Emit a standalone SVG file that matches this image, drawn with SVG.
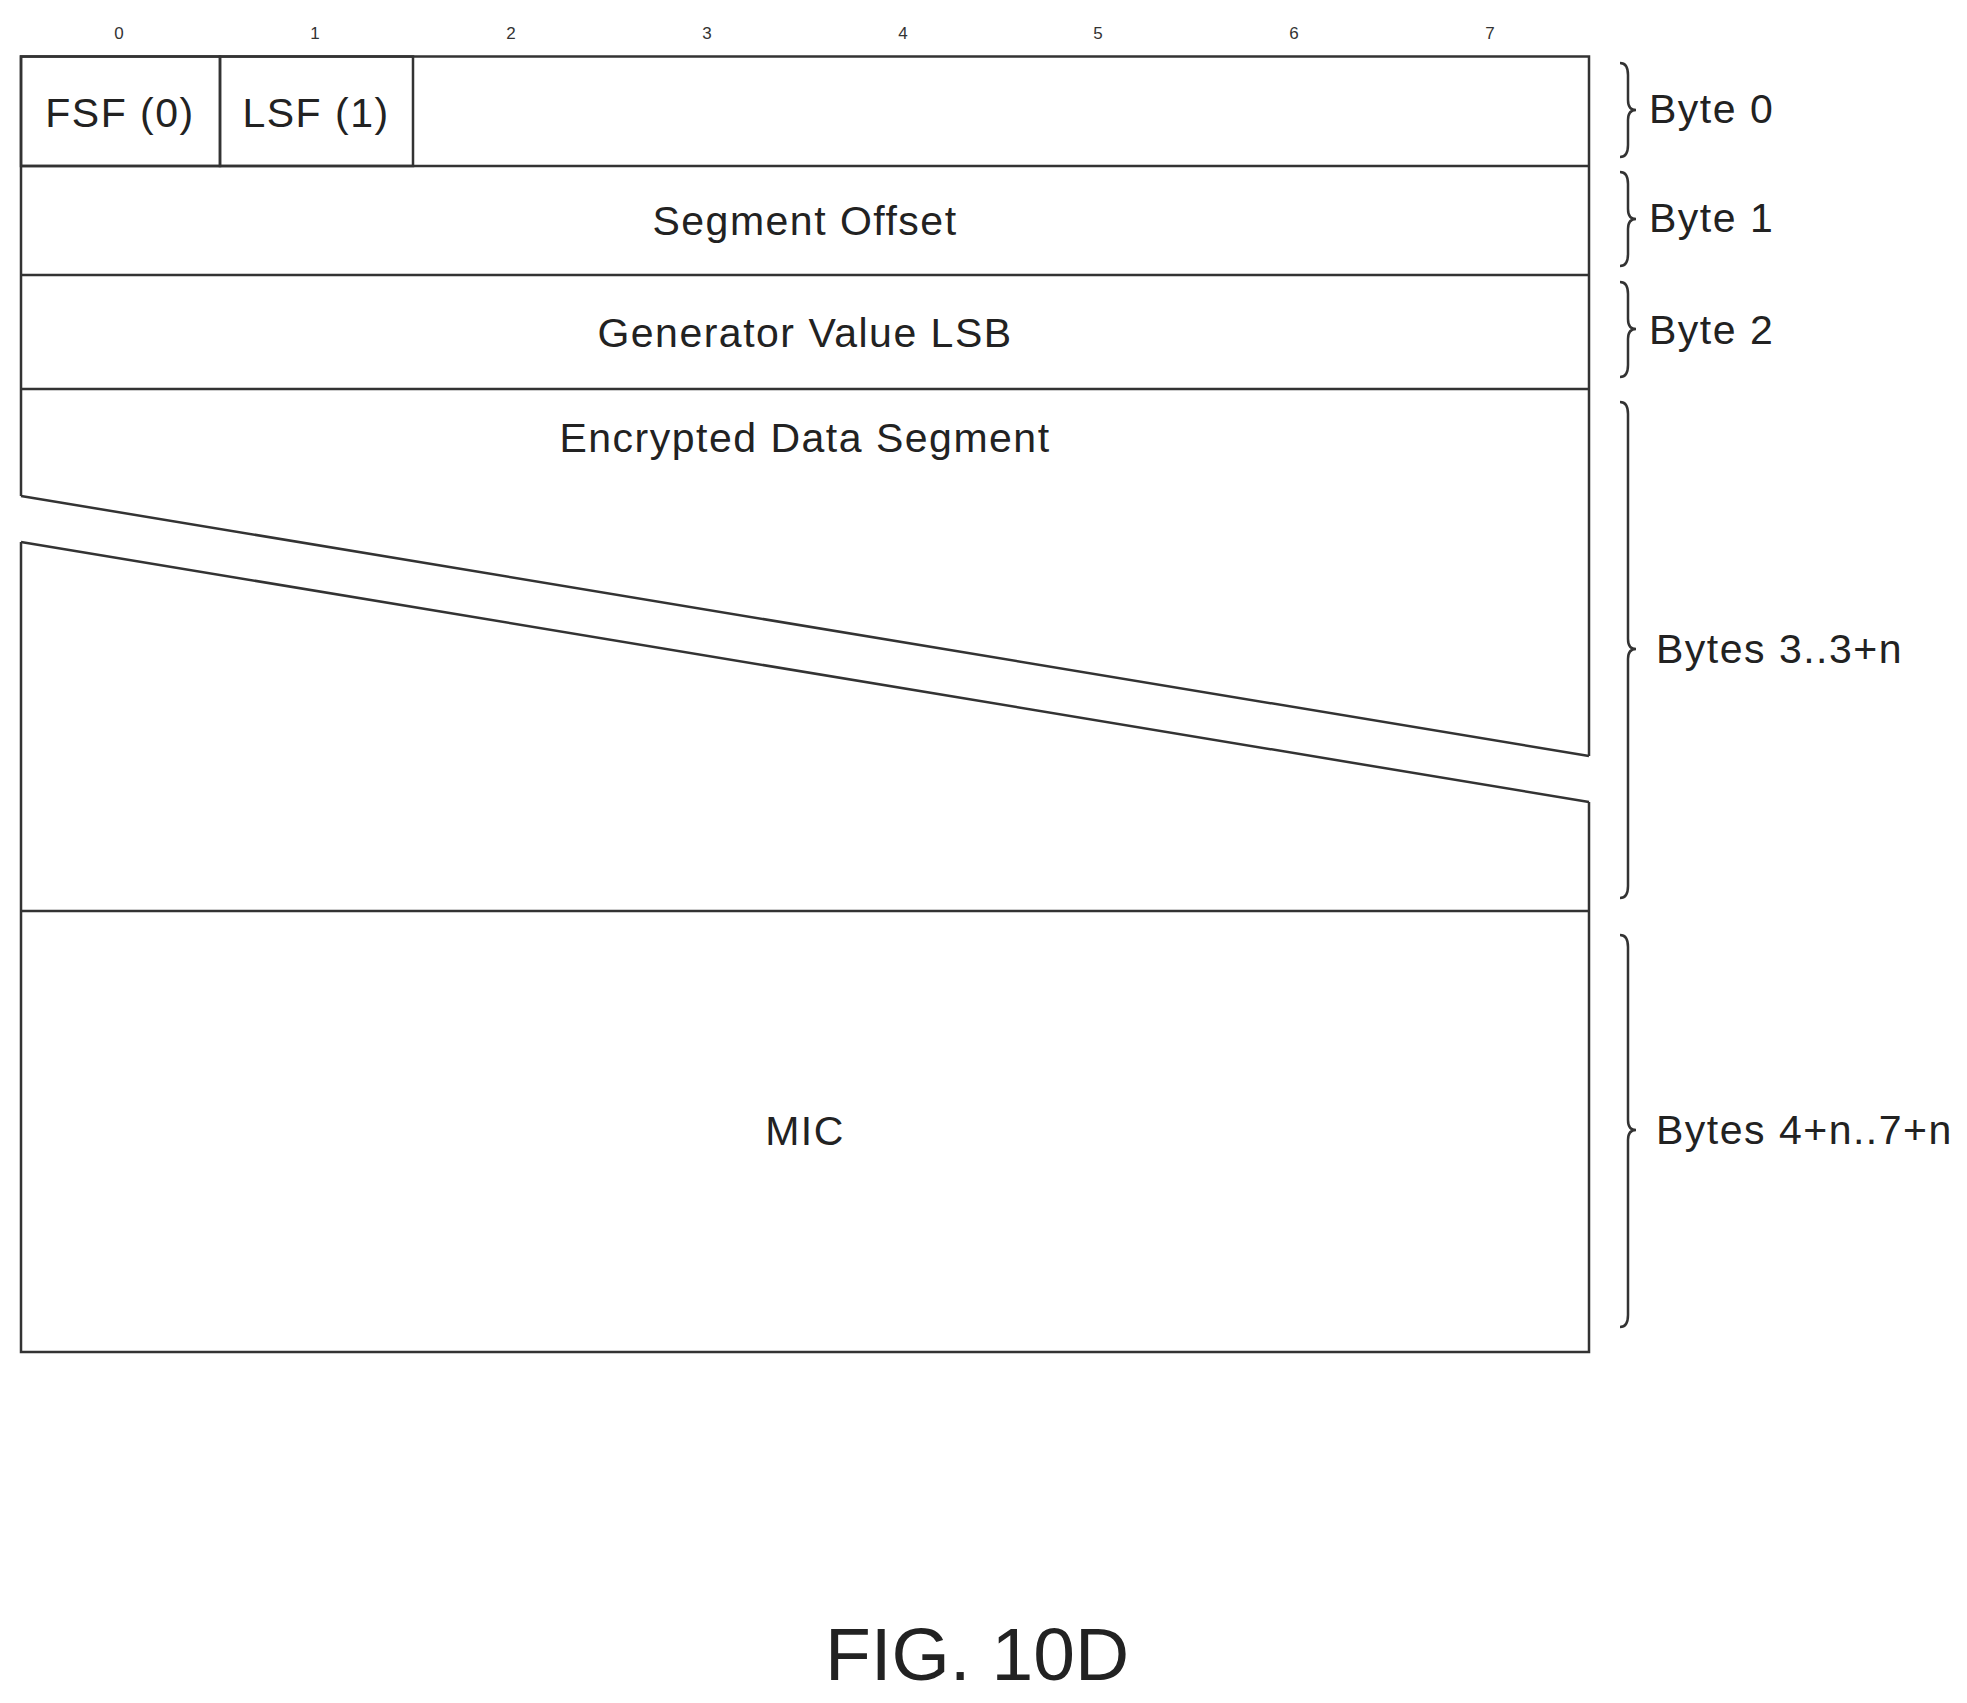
<svg xmlns="http://www.w3.org/2000/svg" width="1967" height="1703" viewBox="0 0 1967 1703">
<style>
.l{fill:none;stroke:#333;stroke-width:2.5}
.t{font-family:"Liberation Sans",Arial,sans-serif;fill:#222;font-size:41px;letter-spacing:1.5px}
.n{font-family:"Liberation Sans",Arial,sans-serif;fill:#333;font-size:17px;text-anchor:middle}
.c{text-anchor:middle}
</style>
<rect width="1967" height="1703" fill="#fff"/>
<g id="bits">
<text class="n" x="119" y="39">0</text><text class="n" x="315" y="39">1</text><text class="n" x="511" y="39">2</text><text class="n" x="707" y="39">3</text><text class="n" x="903" y="39">4</text><text class="n" x="1098" y="39">5</text><text class="n" x="1294" y="39">6</text><text class="n" x="1490" y="39">7</text>
</g>
<g id="frame">
<path class="l" d="M21 496 V56.5 H1589 V756 M1589 802 V1352 H21 V542"/>
<line class="l" x1="21" y1="166" x2="1589" y2="166"/>
<line class="l" x1="21" y1="275" x2="1589" y2="275"/>
<line class="l" x1="21" y1="389" x2="1589" y2="389"/>
<line class="l" x1="21" y1="911" x2="1589" y2="911"/>
<line class="l" x1="21" y1="496" x2="1589" y2="756"/>
<line class="l" x1="21" y1="542" x2="1589" y2="802"/>
</g>
<g id="fsf"><rect class="l" x="21" y="56.5" width="199" height="109.5"/><text class="t c" x="120" y="127">FSF (0)</text></g>
<g id="lsf"><rect class="l" x="220" y="56.5" width="193" height="109.5"/><text class="t c" x="316" y="127">LSF (1)</text></g>
<g id="seg"><text class="t c" x="805" y="235">Segment Offset</text></g>
<g id="gen"><text class="t c" x="805" y="347">Generator Value LSB</text></g>
<g id="enc"><text class="t c" x="805" y="452">Encrypted Data Segment</text></g>
<g id="mic"><text class="t c" x="805" y="1145">MIC</text></g>
<g id="braces">
<path class="l" d="M1620 63 Q1628 63 1628 75 V100 Q1628 110 1636 110 Q1628 110 1628 120 V145 Q1628 157 1620 157"/>
<path class="l" d="M1620 172 Q1628 172 1628 184 V209 Q1628 219 1636 219 Q1628 219 1628 229 V254 Q1628 266 1620 266"/>
<path class="l" d="M1620 282 Q1628 282 1628 294 V319 Q1628 329 1636 329 Q1628 329 1628 339 V365 Q1628 377 1620 377"/>
<path class="l" d="M1620 402 Q1628 402 1628 414 V639 Q1628 649 1636 649 Q1628 649 1628 659 V886 Q1628 898 1620 898"/>
<path class="l" d="M1620 935 Q1628 935 1628 947 V1120 Q1628 1130 1636 1130 Q1628 1130 1628 1140 V1315 Q1628 1327 1620 1327"/>
<text class="t" x="1649" y="123">Byte 0</text>
<text class="t" x="1649" y="232">Byte 1</text>
<text class="t" x="1649" y="344">Byte 2</text>
<text class="t" x="1656" y="663">Bytes 3..3+n</text>
<text class="t" x="1656" y="1144">Bytes 4+n..7+n</text>
</g>
<text class="c" x="977" y="1680" style="font-family:'Liberation Sans',Arial,sans-serif;fill:#222;font-size:75px">FIG. 10D</text>
</svg>
